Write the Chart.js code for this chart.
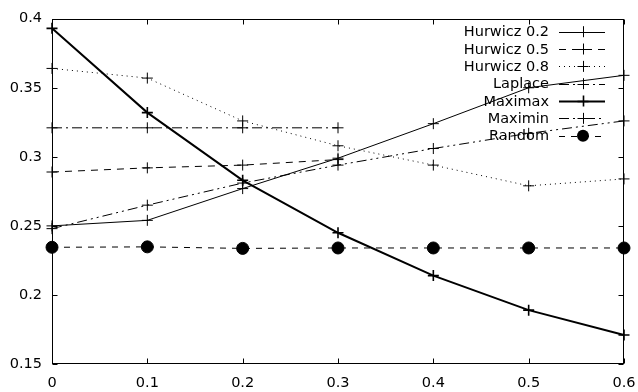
<!DOCTYPE html>
<html>
<head>
<meta charset="utf-8">
<script src="https://cdn.jsdelivr.net/npm/chart.js@4/dist/chart.umd.min.js"></script>
<style>
  html, body { margin: 0; padding: 0; background: #fff; }
  #wrap { width: 638px; height: 392px; }
</style>
</head>
<body>
<div id="wrap"><canvas id="chart"></canvas></div>
<script>
// --- Data ---
const xValues = [0, 0.1, 0.2, 0.3, 0.4, 0.5, 0.6];
const hurwicz02 = [0.250, 0.254, 0.277, 0.299, 0.324, 0.350, 0.359];
const hurwicz05 = [0.289, 0.292, 0.294, 0.298, null, null, null];
const hurwicz08 = [0.364, 0.357, 0.326, 0.308, 0.294, 0.279, 0.284];
const laplace = [0.321, 0.321, 0.321, 0.321, null, null, null];
const maximax = [0.393, 0.332, 0.283, 0.245, 0.214, 0.189, 0.171];
const maximin = [0.248, 0.265, 0.281, 0.294, 0.306, 0.317, 0.326];
const random = [0.2345, 0.2348, 0.2337, 0.234, 0.234, 0.234, 0.234];

const xTicks = [0, 0.1, 0.2, 0.3, 0.4, 0.5, 0.6];
const xTickLabels = ['0', '0.1', '0.2', '0.3', '0.4', '0.5', '0.6'];
const yTicks = [0.15, 0.2, 0.25, 0.3, 0.35, 0.4];
const yTickLabels = ['0.15', '0.2', '0.25', '0.3', '0.35', '0.4'];

const FONT = '14.5px "DejaVu Sans"';

const toPoints = (ys) => xValues.map((x, i) => ({ x: x, y: ys[i] }));

const series = (label, ys, dash, width, style) => ({
    label: label,
    data: toPoints(ys),
    borderColor: '#000',
    backgroundColor: '#000',
    borderWidth: width,
    borderDash: dash,
    pointStyle: style,
    pointRadius: style === 'circle' ? 6 : 5.5,
    pointBorderWidth: width === 2 ? 1.6 : 1,
    pointBorderColor: '#000',
    pointBackgroundColor: '#000',
    tension: 0,
    fill: false,
    clip: false,
    spanGaps: false
});

const datasets = [
    series('Hurwicz 0.2', hurwicz02, [], 1, 'cross'),
    series('Hurwicz 0.5', hurwicz05, [7, 6], 1, 'cross'),
    series('Hurwicz 0.8', hurwicz08, [1, 4], 1, 'cross'),
    series('Laplace', laplace, [10, 4, 2, 4], 1, 'cross'),
    series('Maximax', maximax, [], 2, 'cross'),
    series('Maximin', maximin, [10, 4, 2, 4, 2, 4], 1, 'cross'),
    series('Random', random, [6, 6], 1, 'circle')
];

// --- gnuplot style frame with inward ticks on all sides, x labels below ---
const framePlugin = {
    id: 'frame',
    beforeDatasetsDraw(chart) {
        const { ctx, chartArea: a, scales } = chart;
        const L = Math.round(a.left) + 0.5, R = Math.round(a.right) - 0.5;
        const T = Math.round(a.top) + 0.5, B = Math.round(a.bottom) - 0.5;
        ctx.save();
        ctx.strokeStyle = '#000';
        ctx.lineWidth = 1;
        ctx.strokeRect(L, T, R - L, B - T);
        ctx.beginPath();
        xTicks.forEach((v) => {
            const px = Math.round(scales.x.getPixelForValue(v)) + 0.5;
            ctx.moveTo(px, B); ctx.lineTo(px, B - 5);
            ctx.moveTo(px, T); ctx.lineTo(px, T + 5);
        });
        yTicks.forEach((v) => {
            const py = Math.round(scales.y.getPixelForValue(v)) + 0.5;
            ctx.moveTo(L, py); ctx.lineTo(L + 5, py);
            ctx.moveTo(R, py); ctx.lineTo(R - 5, py);
        });
        ctx.stroke();

        ctx.fillStyle = '#000';
        ctx.font = FONT;
        ctx.textAlign = 'center';
        ctx.textBaseline = 'middle';
        xTicks.forEach((v, i) => {
            ctx.fillText(xTickLabels[i], scales.x.getPixelForValue(v), a.bottom + 19);
        });
        ctx.restore();
    }
};

// --- key in the top right: text right aligned, sample to its right ---
const keyPlugin = {
    id: 'key',
    afterDatasetsDraw(chart) {
        const { ctx } = chart;
        const textRight = 549, x0 = 559, x1 = 605, xm = 583;
        const top = 31.7, step = 17.33;
        ctx.save();
        ctx.font = FONT;
        ctx.textAlign = 'right';
        ctx.textBaseline = 'middle';
        chart.data.datasets.forEach((ds, i) => {
            const y = top + i * step;
            ctx.fillStyle = '#000';
            ctx.fillText(ds.label, textRight, y + 1);
            ctx.strokeStyle = '#000';
            ctx.lineWidth = ds.borderWidth;
            ctx.setLineDash(ds.borderDash);
            ctx.beginPath();
            ctx.moveTo(x0, Math.round(y) + 0.5);
            ctx.lineTo(x1, Math.round(y) + 0.5);
            ctx.stroke();
            ctx.setLineDash([]);
            ctx.beginPath();
            if (ds.pointStyle === 'circle') {
                ctx.arc(xm, y, ds.pointRadius, 0, Math.PI * 2);
                ctx.fill();
            } else {
                ctx.lineWidth = ds.pointBorderWidth;
                ctx.moveTo(xm - ds.pointRadius, Math.round(y) + 0.5);
                ctx.lineTo(xm + ds.pointRadius, Math.round(y) + 0.5);
                ctx.moveTo(xm + 0.5, y - ds.pointRadius);
                ctx.lineTo(xm + 0.5, y + ds.pointRadius);
                ctx.stroke();
            }
        });
        ctx.restore();
    }
};

new Chart(document.getElementById('chart'), {
    type: 'line',
    data: { datasets: datasets },
    options: {
        responsive: true,
        maintainAspectRatio: false,
        animation: false,
        events: [],
        layout: { padding: { top: 15, right: 14, left: 0, bottom: 0 } },
        scales: {
            x: {
                type: 'linear',
                min: 0,
                max: 0.6,
                afterBuildTicks: (s) => { s.ticks = xTicks.map((v) => ({ value: v })); },
                afterFit: (s) => { s.height = 28; },
                grid: { display: false, drawTicks: false },
                border: { display: false },
                ticks: { display: false }
            },
            y: {
                type: 'linear',
                min: 0.15,
                max: 0.4,
                afterBuildTicks: (s) => { s.ticks = yTicks.map((v) => ({ value: v })); },
                afterFit: (s) => { s.width = 52; },
                grid: { display: false, drawTicks: false },
                border: { display: false },
                ticks: {
                    color: '#000',
                    font: { family: 'DejaVu Sans', size: 14.5 },
                    padding: 10,
                    autoSkip: false,
                    callback: (v, i) => yTickLabels[i]
                }
            }
        },
        plugins: {
            legend: { display: false },
            tooltip: { enabled: false }
        }
    },
    plugins: [framePlugin, keyPlugin]
});
</script>
</body>
</html>
